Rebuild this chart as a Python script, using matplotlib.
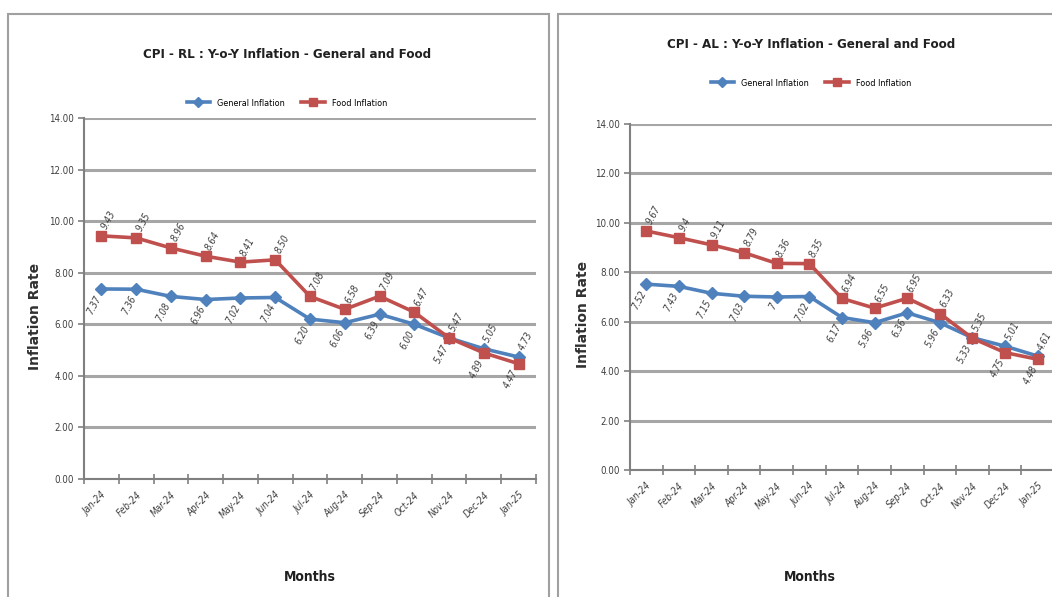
import matplotlib
matplotlib.use("Agg")
import matplotlib.pyplot as plt
import matplotlib.patches as patches
from matplotlib import font_manager
import numpy as np

months = ["Jan-24", "Feb-24", "Mar-24", "Apr-24", "May-24", "Jun-24", "Jul-24",
          "Aug-24", "Sep-24", "Oct-24", "Nov-24", "Dec-24", "Jan-25"]

rl_general = [7.37, 7.36, 7.08, 6.96, 7.02, 7.04, 6.20, 6.06, 6.39, 6.00, 5.47, 5.05, 4.73]
rl_food = [9.43, 9.35, 8.96, 8.64, 8.41, 8.50, 7.08, 6.58, 7.09, 6.47, 5.47, 4.89, 4.47]

al_general = [7.52, 7.43, 7.15, 7.03, 7.00, 7.02, 6.17, 5.96, 6.36, 5.96, 5.35, 5.01, 4.61]
al_food = [9.67, 9.40, 9.11, 8.79, 8.36, 8.35, 6.94, 6.55, 6.95, 6.33, 5.33, 4.75, 4.48]

yticks = [0, 2, 4, 6, 8, 10, 12, 14]

BLUE = "#4F81BD"
RED = "#C0504D"
GRID = "#A6A6A6"

# look for a narrow face (Calibri-like look), fall back to something slim
_names = {(f.name, f.stretch) for f in font_manager.fontManager.ttflist}
if any(n == "Liberation Sans Narrow" for n, _ in _names):
    NARROW = dict(family=["Liberation Sans Narrow", "DejaVu Sans"])
elif ("DejaVu Sans", "condensed") in _names or ("DejaVu Sans", 300) in _names:
    NARROW = dict(family=["DejaVu Sans"], stretch="condensed")
else:
    NARROW = dict(family=["Lato", "DejaVu Sans"])


def fmt_fixed(v):
    return f"{v:.2f}"


def fmt_general(v):
    return f"{v:.2f}".rstrip("0").rstrip(".")


def draw_panel(fig, rect, title, general, food, fmt, cx, title_y, legend_y, ylab_x, months_x):
    ax = fig.add_axes(rect)
    x = np.arange(len(months)) + 0.5

    ax.plot(x, general, color=BLUE, lw=2.6, marker="D", ms=6,
            label="General Inflation", zorder=3)
    ax.plot(x, food, color=RED, lw=2.6, marker="s", ms=7,
            label="Food Inflation", zorder=4)

    # data labels: higher series gets label above, other one below
    for xi, g, f in zip(x, general, food):
        for v, other, is_gen in ((g, f, True), (f, g, False)):
            above = v > other if is_gen else v >= other
            if above:
                ax.annotate(fmt(v), (xi, v), xytext=(2, 5), textcoords="offset points",
                            rotation=62, rotation_mode="anchor", ha="left", va="center",
                            fontsize=7, style="italic", color="#404040", **NARROW)
            else:
                ax.annotate(fmt(v), (xi, v), xytext=(-2, -5), textcoords="offset points",
                            rotation=62, rotation_mode="anchor", ha="right", va="center",
                            fontsize=7, style="italic", color="#404040", **NARROW)

    ax.set_xlim(0, len(months))
    ax.set_ylim(0, 14)
    ax.set_yticks(yticks)
    ax.set_yticklabels([f"{t:.2f}" for t in yticks], fontsize=7, color="#404040", **NARROW)
    ax.yaxis.grid(True, color=GRID, lw=2.2)
    ax.set_axisbelow(True)

    ax.set_xticks(x)
    ax.set_xticklabels(months, rotation=45, ha="right", rotation_mode="anchor",
                       fontsize=7, style="italic", color="#404040", **NARROW)
    ax.tick_params(axis="x", which="major", length=0, pad=8)
    ax.set_xticks(np.arange(len(months) + 1), minor=True)
    ax.tick_params(axis="x", which="minor", length=7, direction="inout", color="#808080", width=1.2)
    ax.tick_params(axis="y", length=4, color="#808080", width=1.2)

    for side in ("top", "right"):
        ax.spines[side].set_visible(False)
    for side in ("left", "bottom"):
        ax.spines[side].set_color("#808080")
        ax.spines[side].set_linewidth(1.5)

    fig.text(cx / 1052, title_y, title, ha="center", va="center", fontsize=9.5,
             weight="bold", color="#202020", **NARROW)
    fig.legend(*ax.get_legend_handles_labels(), loc="center",
               bbox_to_anchor=(cx / 1052, legend_y),
               ncol=2, frameon=False, handlelength=2.6, columnspacing=1.8,
               markerscale=0.8, prop=dict(size=6.5, **NARROW))
    fig.text(ylab_x, rect[1] + rect[3] * 0.45, "Inflation Rate", rotation=90,
             ha="center", va="center", fontsize=10, weight="bold", color="#303030")
    fig.text(months_x / 1052, 1 - 577 / 597, "Months", ha="center", va="center",
             fontsize=10, weight="bold", color="#202020", **NARROW)
    return ax


fig = plt.figure(figsize=(10.52, 5.97), dpi=100)
fig.patch.set_facecolor("white")

# panel frames
fig.add_artist(patches.Rectangle((8 / 1052, -0.05), 541 / 1052, 1.05 - 14 / 597,
                                 transform=fig.transFigure, fill=False,
                                 edgecolor="#A0A0A0", lw=1.5))
fig.add_artist(patches.Rectangle((558 / 1052, -0.05), 0.5, 1.05 - 14 / 597,
                                 transform=fig.transFigure, fill=False,
                                 edgecolor="#A0A0A0", lw=1.5))

draw_panel(fig, [84 / 1052, 1 - 479 / 597, 452 / 1052, 361 / 597],
           "CPI - RL : Y-o-Y Inflation - General and Food",
           rl_general, rl_food, fmt_fixed, 287, 1 - 55 / 597, 1 - 103 / 597, 35 / 1052, 310)
draw_panel(fig, [630 / 1052, 1 - 470 / 597, 424 / 1052, 346 / 597],
           "CPI - AL : Y-o-Y Inflation - General and Food",
           al_general, al_food, fmt_general, 811, 1 - 45 / 597, 1 - 83 / 597, 583 / 1052, 810)

fig.savefig("out.png", dpi=100)
